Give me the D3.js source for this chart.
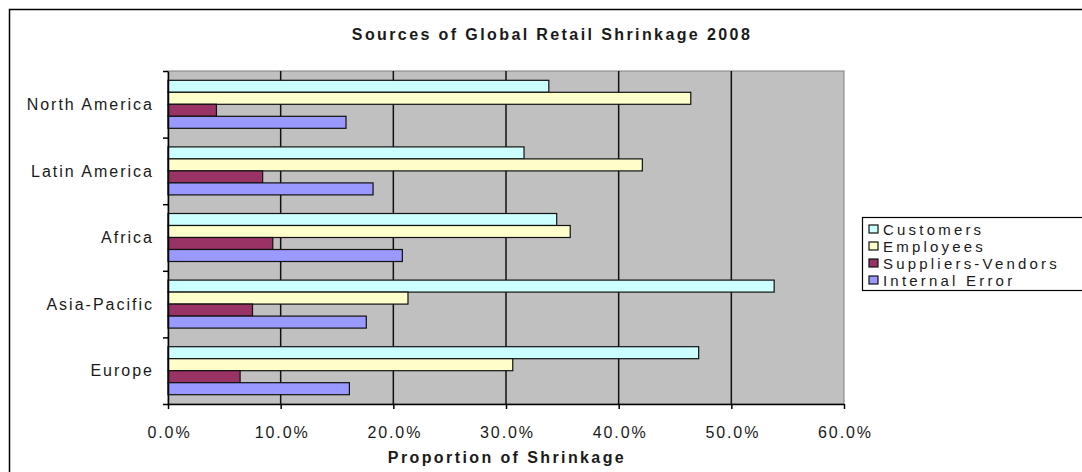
<!DOCTYPE html>
<html>
<head>
<meta charset="utf-8">
<script src="https://cdn.jsdelivr.net/npm/d3@7"></script>
<style>
  body { margin: 0; background: #fff; }
  svg text { font-family: "Liberation Sans", Arial, sans-serif; fill: #1a1a1a; }
</style>
</head>
<body>
<div id="chart"></div>
<script>
// data
const regions = ["North America", "Latin America", "Africa", "Asia-Pacific", "Europe"];
const seriesNames = ["Customers", "Employees", "Suppliers-Vendors", "Internal Error"];
const customers = [0.338, 0.316, 0.345, 0.538, 0.471];
const employees = [0.464, 0.421, 0.357, 0.213, 0.306];
const suppliers = [0.043, 0.084, 0.093, 0.075, 0.064];
const internalErr = [0.158, 0.182, 0.208, 0.176, 0.161];
const xTicks = [0, 0.1, 0.2, 0.3, 0.4, 0.5, 0.6];
const colors = ["#ccffff", "#ffffcc", "#993366", "#9999ff"];

const seriesValues = [customers, employees, suppliers, internalErr];

const W = 1082, H = 472;
const plot = { left: 168, right: 844, top: 71, bottom: 404 };

const svg = d3.select("#chart").append("svg")
    .attr("width", W)
    .attr("height", H);

// chart area border (runs off the right and bottom edges)
svg.append("rect")
    .attr("x", 9.5).attr("y", 9.5)
    .attr("width", 1200).attr("height", 600)
    .attr("fill", "#fff")
    .attr("stroke", "#000")
    .attr("stroke-width", 1.5);

const x = d3.scaleLinear()
    .domain([0, 0.6])
    .range([plot.left, plot.right]);

const y = d3.scaleBand()
    .domain(regions)
    .range([plot.top, plot.bottom]);

const ySeries = d3.scaleBand()
    .domain(seriesNames)
    .range([0, y.bandwidth()])
    .paddingOuter(0.775);

// plot background
svg.append("rect")
    .attr("x", plot.left).attr("y", plot.top)
    .attr("width", plot.right - plot.left)
    .attr("height", plot.bottom - plot.top)
    .attr("fill", "#c0c0c0")
    .attr("stroke", "#808080");

// gridlines
svg.append("g")
    .selectAll("line")
    .data(xTicks.slice(1, -1))
    .enter().append("line")
    .attr("x1", d => x(d)).attr("x2", d => x(d))
    .attr("y1", plot.top).attr("y2", plot.bottom)
    .attr("stroke", "#111")
    .attr("stroke-width", 1.5);

// bars
const groups = svg.append("g")
    .selectAll("g")
    .data(regions)
    .enter().append("g")
    .attr("transform", d => `translate(0,${y(d)})`);

groups.selectAll("rect")
    .data((d, i) => seriesNames.map((s, j) => ({ s: s, v: seriesValues[j][i], c: colors[j] })))
    .enter().append("rect")
    .attr("x", x(0))
    .attr("y", d => ySeries(d.s))
    .attr("width", d => x(d.v) - x(0))
    .attr("height", ySeries.bandwidth())
    .attr("fill", d => d.c)
    .attr("stroke", "#111")
    .attr("stroke-width", 1.2);

// x axis
const xAxis = svg.append("g")
    .attr("transform", `translate(0,${plot.bottom})`)
    .call(d3.axisBottom(x).tickValues(xTicks).tickFormat(d3.format(".1%")).tickSize(5).tickSizeOuter(0));
xAxis.select(".domain").attr("stroke", "#000").attr("stroke-width", 1.5);
xAxis.selectAll(".tick line").attr("stroke", "#000").attr("stroke-width", 1.5);
xAxis.selectAll(".tick text")
    .attr("y", 0).attr("dy", 0)
    .attr("transform", "translate(1,34)")
    .style("font-size", "16px")
    .style("letter-spacing", "1.9px")
    .attr("fill", "#1a1a1a");

// y axis: labels centred on categories, tick marks between categories
const yAxis = svg.append("g")
    .attr("transform", `translate(${plot.left},0)`)
    .call(d3.axisLeft(y).tickSize(0).tickPadding(14));
yAxis.select(".domain").attr("stroke", "#000").attr("stroke-width", 1.5);
yAxis.selectAll(".tick text")
    .attr("dy", "0.35em")
    .style("font-size", "16px")
    .style("letter-spacing", "2px")
    .attr("fill", "#1a1a1a");

const yTickPos = d3.scaleLinear().domain([0, regions.length]).range([plot.top, plot.bottom]);
svg.append("g")
    .attr("transform", `translate(${plot.left},0)`)
    .call(d3.axisLeft(yTickPos).ticks(regions.length).tickFormat("").tickSize(5).tickSizeOuter(0))
    .call(g => g.select(".domain").remove())
    .call(g => g.selectAll(".tick line").attr("stroke", "#000").attr("stroke-width", 1.5));

// title
svg.append("text")
    .attr("x", 552).attr("y", 40)
    .attr("text-anchor", "middle")
    .style("font-size", "16px")
    .style("font-weight", "bold")
    .style("letter-spacing", "2.4px")
    .text("Sources of Global Retail Shrinkage 2008");

// x axis title
svg.append("text")
    .attr("x", (plot.left + plot.right) / 2 + 1).attr("y", 463)
    .attr("text-anchor", "middle")
    .style("font-size", "16px")
    .style("font-weight", "bold")
    .style("letter-spacing", "2.4px")
    .text("Proportion of Shrinkage");

// legend
const legend = svg.append("g").attr("transform", "translate(862,217)");
legend.append("rect")
    .attr("x", 0.5).attr("y", 0.5)
    .attr("width", 300).attr("height", 73)
    .attr("fill", "#fff")
    .attr("stroke", "#000")
    .attr("stroke-width", 1.2);

const items = legend.selectAll(".item")
    .data(seriesNames)
    .enter().append("g")
    .attr("class", "item")
    .attr("transform", (d, i) => `translate(0,${12 + i * 17})`);

items.append("rect")
    .attr("x", 7).attr("y", -4)
    .attr("width", 9).attr("height", 8)
    .attr("fill", (d, i) => colors[i])
    .attr("stroke", "#111")
    .attr("stroke-width", 1.2);

items.append("text")
    .attr("x", 21).attr("y", 5.5)
    .style("font-size", "15px")
    .style("letter-spacing", "3.2px")
    .text(d => d);
</script>
</body>
</html>
